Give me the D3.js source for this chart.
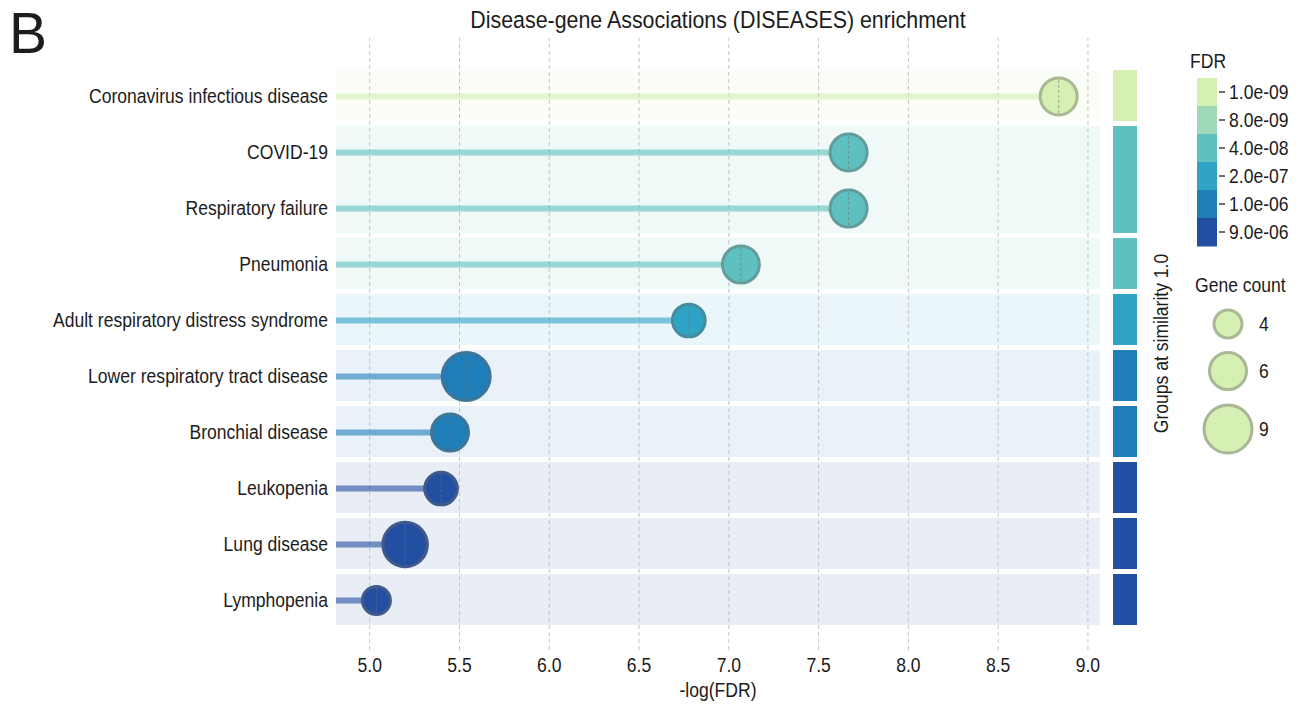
<!DOCTYPE html>
<html>
<head>
<meta charset="utf-8">
<script src="https://cdn.jsdelivr.net/npm/d3@7"></script>
<style>
  body { margin: 0; background: #fff; }
  svg { display: block; }
  text { font-family: "Liberation Sans", Arial, Helvetica, sans-serif; fill: #1c1c1c; }
</style>
</head>
<body>
<svg id="chart" width="1304" height="712"></svg>
<script>
// Enriched DISEASES terms, top to bottom
const terms = [
  "Coronavirus infectious disease",
  "COVID-19",
  "Respiratory failure",
  "Pneumonia",
  "Adult respiratory distress syndrome",
  "Lower respiratory tract disease",
  "Bronchial disease",
  "Leukopenia",
  "Lung disease",
  "Lymphopenia"
];
// -log10(FDR) per term
const negLogFdr = [8.84, 7.67, 7.67, 7.07, 6.78, 5.54, 5.45, 5.40, 5.20, 5.04];
// number of genes per term
const geneCount = [6, 6, 6, 6, 5, 9, 6, 5, 8, 4];
// group id when terms are merged at similarity 1.0
const similarityGroup = [0, 1, 1, 2, 3, 4, 5, 6, 7, 8];

const xTicks = [5.0, 5.5, 6.0, 6.5, 7.0, 7.5, 8.0, 8.5, 9.0];
// FDR colour bar, top (most significant) to bottom
const fdrTickLabels = ["1.0e-09", "8.0e-09", "4.0e-08", "2.0e-07", "1.0e-06", "9.0e-06"];
const fdrPalette = ["#d6efb3", "#a0d9b9", "#5ec0bf", "#2ea3c6", "#1f7db8", "#234fa2"];
const sizeLegendCounts = [4, 6, 9];

const svg = d3.select("#chart");
const FONT = 19.5;      // glyph height
const SQUEEZE = 0.9;    // horizontal text compression

// text helper: places a horizontally condensed label at (x, y)
function label(sel, x, y, extra = "", sx = SQUEEZE) {
  return sel.attr("transform", (d, i) => {
    const xx = typeof x === "function" ? x(d, i) : x;
    const yy = typeof y === "function" ? y(d, i) : y;
    return `translate(${xx},${yy}) ${extra} scale(${sx},1)`;
  });
}

// ---- scales ----
const x = d3.scaleLinear().domain([4.815, 9.07]).range([336, 1100]);
const y = d3.scaleBand().domain(terms).range([70, 625]).paddingInner(0.09).paddingOuter(0);
const rowY = t => y(t) + y.bandwidth() / 2 + 1;
const r = d3.scaleSqrt().domain([4, 9]).range([14, 24]);

const vMin = d3.min(negLogFdr), vMax = d3.max(negLogFdr);
const step = (vMax - vMin) / (fdrPalette.length - 1);
const color = d3.scaleQuantize()
  .domain([vMin - step / 2, vMax + step / 2])
  .range(fdrPalette.slice().reverse());

const rows = terms.map((t, i) => ({
  term: t, v: negLogFdr[i], n: geneCount[i], g: similarityGroup[i], c: color(negLogFdr[i])
}));

// merged groups -> contiguous spans
const groups = d3.groups(rows, d => d.g).map(([g, items]) => ({
  g,
  top: y(items[0].term),
  bottom: y(items[items.length - 1].term) + y.bandwidth(),
  c: items[0].c
}));

// ---- row backgrounds ----
svg.append("g").selectAll("rect").data(groups).join("rect")
  .attr("x", x.range()[0]).attr("width", x.range()[1] - x.range()[0])
  .attr("y", d => d.top).attr("height", d => d.bottom - d.top)
  .attr("fill", d => d.c).attr("fill-opacity", 0.1);

// ---- x axis with dashed grid ----
const gridTop = 38, gridBottom = 650;
const xAxis = svg.append("g")
  .attr("transform", `translate(0,${gridBottom})`)
  .call(d3.axisBottom(x).tickValues(xTicks).tickFormat(d3.format(".1f"))
    .tickSizeInner(-(gridBottom - gridTop)).tickSizeOuter(0).tickPadding(8));
xAxis.select(".domain").remove();
xAxis.selectAll(".tick line")
  .attr("stroke", "#c4c4c4").attr("stroke-width", 1).attr("stroke-dasharray", "4,3");
xAxis.selectAll(".tick text").each(function () {
  const t = d3.select(this);
  const yy = +t.attr("y");
  t.attr("y", null).attr("dy", "0.71em")
    .attr("transform", `translate(0,${yy}) scale(${SQUEEZE},1)`)
    .attr("font-size", FONT).attr("font-family", null).attr("fill", "#1c1c1c");
});

// ---- stems ----
svg.append("g").selectAll("line").data(rows).join("line")
  .attr("x1", x.range()[0]).attr("x2", d => x(d.v))
  .attr("y1", d => rowY(d.term)).attr("y2", d => rowY(d.term))
  .attr("stroke", d => d.c).attr("stroke-opacity", 0.6).attr("stroke-width", 6);

// ---- heads ----
const ringColor = c => d3.interpolateRgb(c, "#6a6a6a")(0.42);
svg.append("g").selectAll("circle").data(rows).join("circle")
  .attr("cx", d => x(d.v)).attr("cy", d => rowY(d.term)).attr("r", d => r(d.n))
  .attr("fill", d => d.c).attr("stroke", d => ringColor(d.c)).attr("stroke-width", 3);
svg.append("g").selectAll("line").data(rows).join("line")
  .attr("x1", d => x(d.v)).attr("x2", d => x(d.v))
  .attr("y1", d => rowY(d.term) - r(d.n) + 2).attr("y2", d => rowY(d.term) + r(d.n) - 2)
  .attr("stroke", "#707070").attr("stroke-opacity", 0.55).attr("stroke-width", 1)
  .attr("stroke-dasharray", "3,2");

// ---- term labels ----
label(svg.append("g").selectAll("text").data(rows).join("text"), 328, d => rowY(d.term))
  .attr("dy", "0.35em").attr("text-anchor", "end").attr("font-size", FONT).text(d => d.term);

// ---- group strip ----
svg.append("g").selectAll("rect").data(groups).join("rect")
  .attr("x", 1113).attr("width", 24)
  .attr("y", d => d.top).attr("height", d => d.bottom - d.top)
  .attr("fill", d => d.c);
label(svg.append("text"), 1168, (70 + 625) / 2 - 4, "rotate(-90)")
  .attr("text-anchor", "middle").attr("font-size", FONT)
  .text("Groups at similarity 1.0");

// ---- titles ----
label(svg.append("text"), 718, 28, "", 0.91).attr("text-anchor", "middle")
  .attr("font-size", 23.5).text("Disease-gene Associations (DISEASES) enrichment");
label(svg.append("text"), 718, 697).attr("text-anchor", "middle")
  .attr("font-size", FONT).text("-log(FDR)");
svg.append("text").attr("x", 9).attr("y", 53).attr("font-size", 57).attr("fill", "#000").text("B");

// ---- FDR legend ----
const cb = d3.scaleBand().domain(fdrTickLabels).range([78, 246]);
const leg = svg.append("g");
label(leg.append("text"), 1190, 68).attr("font-size", FONT).text("FDR");
leg.selectAll("rect.cb").data(fdrTickLabels).join("rect").attr("class", "cb")
  .attr("x", 1197).attr("width", 20)
  .attr("y", d => cb(d)).attr("height", cb.bandwidth() + 0.5)
  .attr("fill", (d, i) => fdrPalette[i]);
leg.selectAll("line.tk").data(fdrTickLabels).join("line").attr("class", "tk")
  .attr("x1", 1219).attr("x2", 1225)
  .attr("y1", d => cb(d) + cb.bandwidth() / 2).attr("y2", d => cb(d) + cb.bandwidth() / 2)
  .attr("stroke", "#222").attr("stroke-width", 1.3);
label(leg.selectAll("text.tl").data(fdrTickLabels).join("text").attr("class", "tl"),
  1229, d => cb(d) + cb.bandwidth() / 2)
  .attr("dy", "0.35em").attr("font-size", FONT).text(d => d);

// ---- gene count legend ----
const sizeCentres = [324, 371, 429];
label(leg.append("text"), 1195, 292).attr("font-size", FONT).text("Gene count");
leg.selectAll("circle").data(sizeLegendCounts).join("circle")
  .attr("cx", 1228).attr("cy", (d, i) => sizeCentres[i]).attr("r", d => r(d))
  .attr("fill", fdrPalette[0]).attr("stroke", ringColor(fdrPalette[0])).attr("stroke-width", 3);
label(leg.selectAll("text.sz").data(sizeLegendCounts).join("text").attr("class", "sz"),
  1259, (d, i) => sizeCentres[i])
  .attr("dy", "0.35em").attr("font-size", FONT).text(d => d);
</script>
</body>
</html>
